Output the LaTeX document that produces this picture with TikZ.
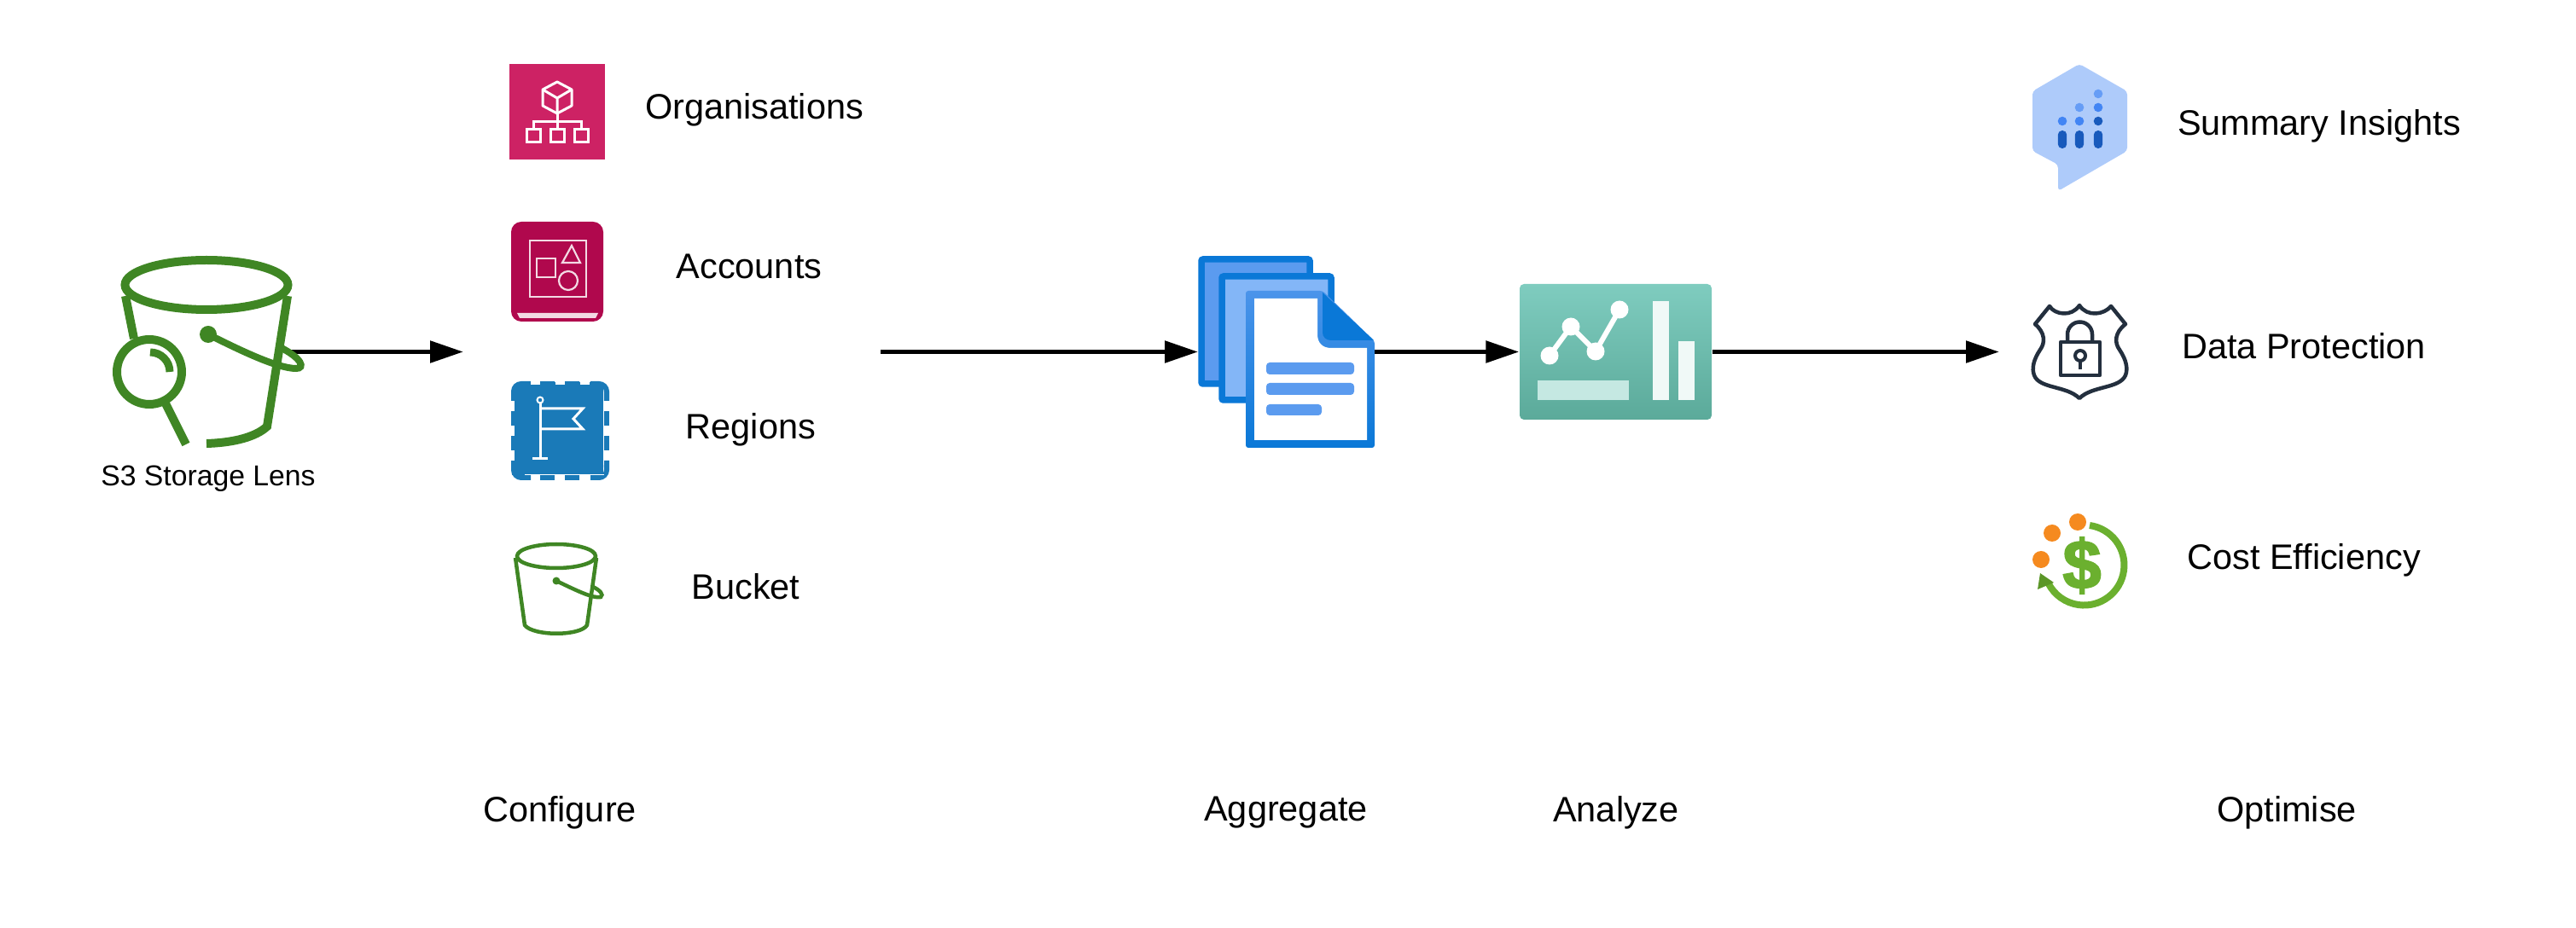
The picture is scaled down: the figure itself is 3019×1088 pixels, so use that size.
\documentclass[tikz,border=0pt]{standalone}
\usepackage{fontspec}
\setmainfont{Liberation Sans}
\newfontfamily\costfont[FakeBold=2.5]{Liberation Sans Bold}
\usetikzlibrary{arrows.meta}
\newlength{\px}
\setlength{\px}{0.1mm}
\definecolor{lensgreen}{HTML}{3F8624}
\definecolor{orgpink}{HTML}{CD2264}
\definecolor{accpink}{HTML}{B0084D}
\definecolor{regblue}{HTML}{1A7AB8}
\definecolor{docblue}{HTML}{0A78D7}
\definecolor{docmid}{HTML}{5B9BEF}
\definecolor{doclight}{HTML}{83B6F7}
\definecolor{dashtop}{HTML}{7FCCBF}
\definecolor{dashmid}{HTML}{78C4B6}
\definecolor{dashlow}{HTML}{5BAA9A}
\definecolor{hexblue}{HTML}{AECBFA}
\definecolor{dotdark}{HTML}{185ABC}
\definecolor{dotmid}{HTML}{4285F4}
\definecolor{dotlight}{HTML}{669DF6}
\definecolor{shieldnavy}{HTML}{232F3E}
\definecolor{costgreen}{HTML}{6BB02F}
\definecolor{costorange}{HTML}{F58A1F}

\begin{document}
\begin{tikzpicture}[
	x=0.1mm, y=-0.1mm,
	label/.style={font=\fontsize{11.8}{14}\selectfont, inner sep=0pt},
	smalllabel/.style={font=\fontsize{9.6}{12}\selectfont, inner sep=0pt},
	lensline/.style={draw=lensgreen, line width=10\px},
	bucketline/.style={draw=lensgreen, line width=4.5\px},
	whiteline/.style={draw=white, line width=3\px},
	regdash/.style={draw=regblue, line width=6\px},
	connect/.style={->, line width=5.5\px},
	>={Triangle[length=3.9mm, width=2.5mm]}
	]
	\useasboundingbox (0,0) rectangle (3019,1088);
	
	%-----------------------
	% Customizable heights
	%-----------------------
	\def\hflow{412.5}    % main arrows
	\def\hstage{953}     % stage names
	
	%-----------------------
	% Connections (under the icons)
	%-----------------------
	\coordinate (lensout) at (338,\hflow);
	\coordinate (cfgin) at (543,\hflow);
	\coordinate (cfgout) at (1032,\hflow);
	\coordinate (docin) at (1404,\hflow);
	\coordinate (docout) at (1611,\hflow);
	\coordinate (optin) at (2343,\hflow);
	
	\draw[connect] (lensout) -- (cfgin);
	\draw[connect] (cfgout) -- (docin);
	
	%-----------------------
	% S3 Storage Lens icon
	%-----------------------
	\draw[lensline] (147,347) -- (157,397);
	\draw[lensline] (337,347) -- (313,500) .. controls (300,512) and (275,519) .. (242,520);
	\fill[white] (336,412) -- (347,416) -- (347,428) -- (332,424) -- cycle;
	\draw[lensline, line width=8\px] (244,392) .. controls (280,410) and (325,432) .. (347,432)
		.. controls (358,432) and (354,420) .. (328,407);
	\draw[lensline] (242,334) ellipse [x radius=95.5, y radius=29];
	\fill[lensgreen] (244,392) circle (10\px);
	\draw[lensline] (175,436) circle (38\px);
	\draw[lensline, line width=9\px] (176,413) arc [start angle=90, end angle=0, radius=23\px];
	\draw[lensline] (194,473) -- (218,521);
	\node[smalllabel] (lens) at (244,561) {S3 Storage Lens};
	
	%-----------------------
	% Configure column: organisations
	%-----------------------
	\node[fill=orgpink, minimum width=112\px, minimum height=112\px, inner sep=0pt] (org) at (653,131) {};
	\draw[whiteline, line join=round] (653,96) -- (670,105) -- (670,124) -- (653,133) -- (636,124) -- (636,105) -- cycle;
	\draw[whiteline] (636,105) -- (653,115) -- (670,105) (653,115) -- (653,133);
	\draw[whiteline] (653,133) -- (653,152) (625,152) -- (625,143) -- (681,143) -- (681,152);
	\foreach \x in {625,653,681}
		\draw[whiteline] (\x-8,152) rectangle (\x+8,167);
	\node[label] (orgtext) at (884,129) {Organisations};
	
	%-----------------------
	% Accounts
	%-----------------------
	\fill[accpink, rounded corners=12\px] (599,260) rectangle (707,377);
	\fill[white!85!accpink] (606,367) -- (701,367) -- (698,373) -- (609,373) -- cycle;
	\draw[white!85!accpink, line width=2.2\px] (621,282) rectangle (687,348);
	\draw[white!85!accpink, line width=2.2\px] (629,303) rectangle (651,325);
	\draw[white!85!accpink, line width=2.2\px] (670,288) -- (659,308) -- (680,308) -- cycle;
	\draw[white!85!accpink, line width=2.2\px] (666,329) circle (11\px);
	\node[label] (acctext) at (878,312) {Accounts};
	
	%-----------------------
	% Regions
	%-----------------------
	\fill[regblue, rounded corners=9\px] (600,448) -- (707,448) -- (707,557) -- (600,557) -- cycle;
	\fill[regblue] (690,448) rectangle (707,557);
	\fill[regblue] (600,540) rectangle (707,557);
	\draw[regdash, rounded corners=9\px] (622,450) -- (602,450) -- (602,470);
	\draw[regdash, rounded corners=9\px] (692,450) -- (711,450) -- (711,470);
	\draw[regdash, rounded corners=9\px] (602,540) -- (602,560) -- (622,560);
	\draw[regdash, rounded corners=9\px] (692,560) -- (711,560) -- (711,540);
	\foreach \k in {0,1} {
		\draw[regdash] (633+29*\k,450) -- (650+29*\k,450);
		\draw[regdash] (633+29*\k,560) -- (650+29*\k,560);
		\draw[regdash] (602,482+29*\k) -- (602,499+29*\k);
		\draw[regdash] (711,482+29*\k) -- (711,499+29*\k);
	}
	% white seams around the dashes
	\draw[white, line width=1\px] (707.5,470) -- (707.5,545);
	\draw[white, line width=1\px] (615,556.8) -- (708,556.8);
	\foreach \k in {0,1,2} {
		\fill[white] (622+29*\k,447) rectangle (633+29*\k,451);
		\fill[white] (599,470+29*\k) rectangle (603,482+29*\k);
	}
	\draw[whiteline] (633,469) -- (633,538) (624,538) -- (642,538);
	\draw[whiteline, line join=miter] (633,479) -- (683,479) -- (672,491) -- (683,503) -- (633,503);
	\draw[white, fill=regblue, line width=2\px] (633,469) circle (3.5\px);
	\node[label] (regtext) at (880,504) {Regions};
	
	%-----------------------
	% Bucket
	%-----------------------
	\draw[bucketline] (652,681) .. controls (675,692) and (695,702) .. (704,700)
		.. controls (708,697) and (703,692) .. (695,688);
	\draw[bucketline] (604,654) -- (615,733) .. controls (625,746) and (680,746) .. (688,733) -- (699,654);
	\draw[bucketline] (652,652) ellipse [x radius=46, y radius=14];
	\fill[lensgreen] (652,681) circle (4.5\px);
	\node[label] (buckettext) at (874,688) {Bucket};
	
	%-----------------------
	% Aggregate: stacked documents
	%-----------------------
	\draw[docblue, fill=docmid, line width=7.5\px, rounded corners=2\px] (1408,304) rectangle (1535,450);
	\draw[docblue, fill=doclight, line width=7.5\px, rounded corners=2\px] (1432,324) rectangle (1560,469);
	\shade[top color=docmid!80!docblue, bottom color=docblue, rounded corners=3\px]
		(1460,341) -- (1550,341) -- (1611,400) -- (1611,525) -- (1460,525) -- cycle;
	\fill[white] (1470,350) -- (1544,350) -- (1544,392) .. controls (1544,402) and (1550,408) .. (1560,408)
		-- (1602,408) -- (1602,516) -- (1470,516) -- cycle;
	\fill[docblue] (1550,343) -- (1610,399) -- (1560,399) .. controls (1554,399) and (1550,395) .. (1550,390) -- cycle;
	\fill[docmid, rounded corners=4\px] (1484,425) rectangle (1587,439);
	\fill[docmid, rounded corners=4\px] (1484,449) rectangle (1587,463);
	\fill[docmid, rounded corners=4\px] (1484,474) rectangle (1549,487);
	
	%-----------------------
	% Analyze: dashboard panel
	%-----------------------
	\node[top color=dashtop, middle color=dashmid, bottom color=dashlow, rounded corners=5\px, inner sep=0pt,
		minimum width=225\px, minimum height=159\px] (dash) at (1893.5,412.5) {};
	\draw[white, line width=6\px] (1816,417) -- (1841,383) -- (1870,412) -- (1898,363);
	\foreach \x/\y in {1816/417, 1841/383, 1870/412, 1898/363}
		\fill[white] (\x,\y) circle (10.5\px);
	\fill[white!55!dashtop] (1802,446) rectangle (1909,469);
	\fill[white!88!dashtop] (1937,353) rectangle (1956,469);
	\fill[white!88!dashtop] (1967,400) rectangle (1986,469);
	
	%-----------------------
	% Optimise column: summary insights
	%-----------------------
	\fill[hexblue, rounded corners=4\px] (2437,75) -- (2493,107) -- (2493,177) -- (2412,224) -- (2412,193)
		-- (2382,177) -- (2382,107) -- cycle;
	\foreach \x/\y/\c in {2417/142/dotmid, 2437/126/dotlight, 2437/142/dotmid, 2459/110/dotlight, 2459/126/dotmid, 2459/142/dotdark}
		\fill[\c] (\x,\y) circle (5.3\px);
	\foreach \x in {2417,2437,2459}
		\fill[dotdark, rounded corners=5\px] (\x-5.2,153) rectangle (\x+5.2,174);
	\node[label] (sumtext) at (2718,148) {Summary Insights};
	
	%-----------------------
	% Data protection
	%-----------------------
	\draw[shieldnavy, line width=4.5\px, line join=round] (2402,359)
		.. controls (2408,369) and (2428,372) .. (2437,358)
		.. controls (2446,372) and (2466,369) .. (2474,359)
		-- (2491,380) .. controls (2478,390) and (2478,402) .. (2484,410)
		.. controls (2492,422) and (2494,432) .. (2491,440)
		.. controls (2484,456) and (2452,452) .. (2437,467)
		.. controls (2422,452) and (2390,456) .. (2384,440)
		.. controls (2381,432) and (2383,422) .. (2391,410)
		.. controls (2397,402) and (2397,390) .. (2385,380)
		-- cycle;
	\draw[shieldnavy, line width=4.5\px, line join=round] (2415,401) rectangle (2461,440);
	\draw[shieldnavy, line width=4.5\px] (2423,401) -- (2423,392) arc [start angle=180, end angle=0, radius=14.5\px] -- (2452,401);
	\draw[shieldnavy, line width=4\px] (2438,417) circle (6\px);
	\draw[shieldnavy, line width=4.5\px] (2438,423) -- (2438,433);
	\node[label] (prottext) at (2700,406) {Data Protection};
	
	%-----------------------
	% Cost efficiency
	%-----------------------
	\draw[costgreen, line width=8\px] (2449,616) arc [start angle=82, end angle=-153, radius=47\px];
	\fill[costgreen!85!black] (2391,672) -- (2388,691) -- (2407,683) -- cycle;
	\foreach \x/\y in {2435/612, 2405/625, 2392/656}
		\fill[costorange] (\x,\y) circle (10\px);
	\node[text=costgreen, font=\costfont\fontsize{23}{23}\selectfont, inner sep=0pt] (dollar) at (2440,663) {\$};
	\node[label] (costtext) at (2700,657) {Cost Efficiency};
	
	%-----------------------
	% Stage names
	%-----------------------
	\node[label] (configure) at (656,\hstage) {Configure};
	\node[label] (aggregate) at (1507,\hstage) {Aggregate};
	\node[label] (analyze) at (1894,\hstage) {Analyze};
	\node[label] (optimise) at (2680,\hstage) {Optimise};
	
	%-----------------------
	% Connections
	%-----------------------
	\draw[connect] (docout) -- (dash.west);
	\draw[connect] (dash.east) -- (optin);
	
\end{tikzpicture}
\end{document}
